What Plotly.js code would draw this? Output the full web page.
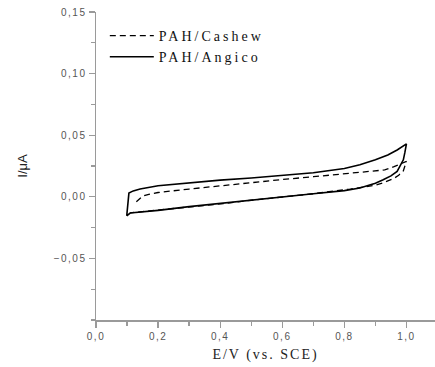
<!DOCTYPE html>
<html>
<head>
<meta charset="utf-8">
<script src="https://cdn.plot.ly/plotly-3.0.1.min.js"></script>
<style>
html,body{margin:0;padding:0;background:#fff;}
#chart{width:435px;height:367px;}
.legendtext{letter-spacing:3px;}
.g-xtitle text{letter-spacing:2px;}
.xtick text,.ytick text{letter-spacing:1.5px;}
</style>
</head>
<body>
<div id="chart"></div>
<script>
// PAH/Cashew (dashed) cyclic voltammogram
const cashewE = [0.13, 0.14, 0.15, 0.17, 0.2, 0.3, 0.4, 0.5, 0.6, 0.7, 0.8, 0.9, 0.93, 0.96, 0.98, 1.0, 0.995, 0.99, 0.975, 0.96, 0.93, 0.9, 0.86, 0.82, 0.7, 0.6, 0.5, 0.4, 0.3, 0.2, 0.15, 0.11];
const cashewI = [-0.004, -0.0015, 0.0005, 0.002, 0.0035, 0.0063, 0.009, 0.0118, 0.014, 0.0163, 0.0188, 0.021, 0.0218, 0.0245, 0.0265, 0.0287, 0.025, 0.021, 0.0175, 0.015, 0.0118, 0.0095, 0.0078, 0.0063, 0.0025, 0.0, -0.0028, -0.0058, -0.0085, -0.011, -0.012, -0.013];
// PAH/Angico (solid) cyclic voltammogram
const angicoE = [0.099, 0.106, 0.12, 0.142, 0.2, 0.3, 0.4, 0.5, 0.6, 0.7, 0.8, 0.85, 0.9, 0.94, 0.97, 1.0, 0.995, 0.99, 0.97, 0.95, 0.925, 0.9, 0.85, 0.8, 0.7, 0.6, 0.5, 0.4, 0.3, 0.2, 0.15, 0.11, 0.099];
const angicoI = [-0.0155, 0.003, 0.0048, 0.0063, 0.009, 0.0115, 0.0135, 0.0152, 0.0175, 0.0195, 0.023, 0.026, 0.030, 0.034, 0.038, 0.043, 0.036, 0.030, 0.0206, 0.017, 0.0138, 0.011, 0.0071, 0.005, 0.0025, 0.0, -0.0025, -0.0052, -0.008, -0.011, -0.0122, -0.0132, -0.0155];

const seriesNames = ['PAH/Cashew', 'PAH/Angico'];
const xTickVals = [0, 0.2, 0.4, 0.6, 0.8, 1.0];
const yTickVals = [-0.05, 0, 0.05, 0.10, 0.15];

const traces = [
  {x: cashewE, y: cashewI, name: seriesNames[0], mode: 'lines', type: 'scatter',
   line: {color: '#000', width: 1.3, dash: '6px,4px'}},
  {x: angicoE, y: angicoI, name: seriesNames[1], mode: 'lines', type: 'scatter',
   line: {color: '#000', width: 1.6}}
];

const axisColor = '#9a9a9a';
const serif = '"Liberation Serif", "Times New Roman", serif';
const sans = '"Liberation Sans", Arial, sans-serif';
const tickFont = {family: sans, size: 10, color: '#555'};

const layout = {
  width: 435, height: 367,
  margin: {l: 96, r: 0, t: 12, b: 47},
  paper_bgcolor: '#fff', plot_bgcolor: '#fff',
  separators: ', ',
  showlegend: true,
  legend: {
    x: 0.026, y: 0.974, xanchor: 'left', yanchor: 'top',
    bgcolor: 'rgba(0,0,0,0)', borderwidth: 0,
    font: {family: serif, size: 14, color: '#111'},
    itemwidth: 44, tracegroupgap: 0
  },
  xaxis: {
    range: [0, 1.092], showgrid: false, zeroline: false,
    showline: true, linecolor: axisColor, linewidth: 1.5,
    ticks: 'outside', ticklen: 6, tickwidth: 1.3, tickcolor: axisColor,
    tickvals: xTickVals, tickformat: '.1f', tickfont: tickFont,
    minor: {dtick: 0.1, ticks: 'outside', ticklen: 4, tickwidth: 1.3, tickcolor: axisColor, showgrid: false},
    title: {text: 'E/V (vs. SCE)', standoff: 8,
      font: {family: serif, size: 14, color: '#222'}}
  },
  yaxis: {
    range: [-0.10, 0.15], showgrid: false, zeroline: false,
    showline: true, linecolor: axisColor, linewidth: 1.5,
    ticks: 'outside', ticklen: 6, tickwidth: 1.3, tickcolor: axisColor,
    tickvals: yTickVals, tickformat: '.2f', tickfont: tickFont,
    minor: {dtick: 0.025, ticks: 'outside', ticklen: 4, tickwidth: 1.3, tickcolor: axisColor, showgrid: false},
    title: {text: 'I/μA', standoff: 23,
      font: {family: sans, size: 13, color: '#222'}}
  }
};

Plotly.newPlot('chart', traces, layout, {displayModeBar: false, staticPlot: true});
</script>
</body>
</html>
